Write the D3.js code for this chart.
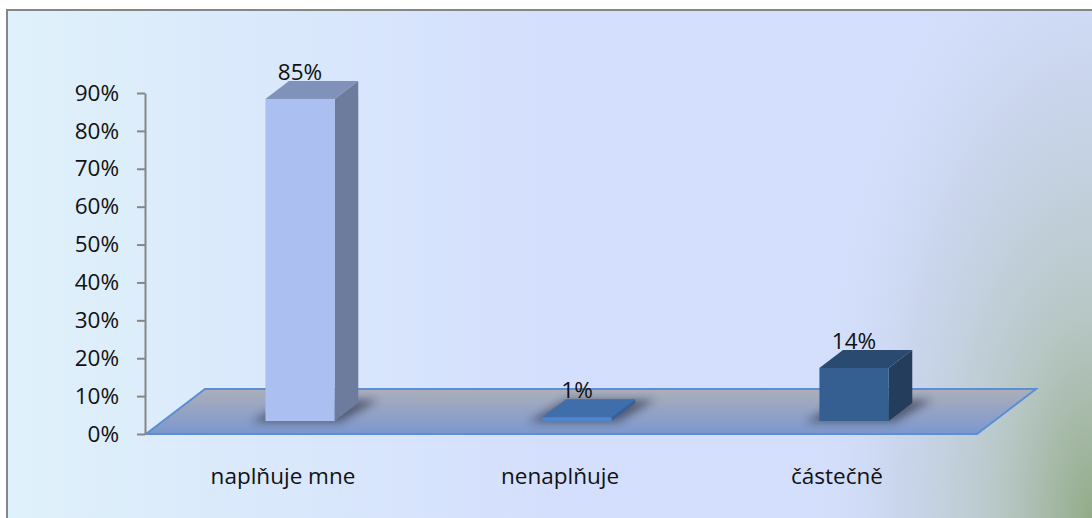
<!DOCTYPE html>
<html>
<head>
<meta charset="utf-8">
<script src="https://cdn.jsdelivr.net/npm/d3@7"></script>
<style>
  html, body { margin: 0; padding: 0; background: #ffffff; }
  svg { display: block; }
  text { font-family: "Open Sans", "Noto Sans", sans-serif; fill: #111; }
</style>
</head>
<body>
<svg id="chart" width="1092" height="518"></svg>
<script>
// Survey answers and their shares
const categories = ["naplňuje mne", "nenaplňuje", "částečně"];
const values = [0.85, 0.01, 0.14];
const tickValues = [0, 0.1, 0.2, 0.3, 0.4, 0.5, 0.6, 0.7, 0.8, 0.9];

// Face colours for each bar: front, top, side
const barFront = ["#abbff0", "#4d86cd", "#345f90"];
const barTop   = ["#8192ba", "#3f6eaa", "#2a4a6f"];
const barSide  = ["#6d7b9c", "#36609a", "#243d5c"];

const W = 1092, H = 518;
const FONT = "22.5px";
const svg = d3.select("#chart");
const defs = svg.append("defs");

// ---- background panel ----
const bgLin = defs.append("linearGradient").attr("id", "bgLin")
  .attr("gradientUnits", "userSpaceOnUse")
  .attr("x1", 8).attr("y1", 0).attr("x2", 560).attr("y2", 0);
bgLin.append("stop").attr("offset", 0).attr("stop-color", "#dff1fa");
bgLin.append("stop").attr("offset", 1).attr("stop-color", "#d4dffd");

const bgRad = defs.append("radialGradient").attr("id", "bgRad")
  .attr("gradientUnits", "userSpaceOnUse")
  .attr("cx", 0).attr("cy", 0).attr("r", 1)
  .attr("gradientTransform", `translate(${W},${H}) scale(300,680)`);
bgRad.append("stop").attr("offset", 0).attr("stop-color", "#93ab88").attr("stop-opacity", 1);
bgRad.append("stop").attr("offset", 0.3).attr("stop-color", "#b2c3bb").attr("stop-opacity", 0.85);
bgRad.append("stop").attr("offset", 0.65).attr("stop-color", "#c0ccdc").attr("stop-opacity", 0.5);
bgRad.append("stop").attr("offset", 1).attr("stop-color", "#d4dffd").attr("stop-opacity", 0);

svg.append("rect").attr("x", 8).attr("y", 11).attr("width", W - 8).attr("height", H - 11)
  .attr("fill", "url(#bgLin)");
svg.append("rect").attr("x", 8).attr("y", 11).attr("width", W - 8).attr("height", H - 11)
  .attr("fill", "url(#bgRad)");

// frame (top and left edges)
svg.append("path").attr("d", `M7,${H} V10 H${W}`)
  .attr("fill", "none").attr("stroke", "#868686").attr("stroke-width", 2);

// ---- scales ----
const y = d3.scaleLinear().domain([0, 0.9]).range([434, 93]);
const x = d3.scaleBand().domain(categories).range([144.5, 975.5]).padding(0);

// depth of the floor and placement of the bars inside it
const floorDX = 59, floorDY = 45;
const barOffset = 13 / floorDY;     // bars start this far back into the floor
const barDepth = 0.4;               // bars use this share of the floor depth
const barWidthShare = 0.25;

// ---- floor ----
const floorGrad = defs.append("linearGradient").attr("id", "floorGrad")
  .attr("x1", 0).attr("y1", 0).attr("x2", 0).attr("y2", 1);
floorGrad.append("stop").attr("offset", 0).attr("stop-color", "#abafba");
floorGrad.append("stop").attr("offset", 1).attr("stop-color", "#7c97cf");

const fx0 = x.range()[0] + 1.5, fx1 = x.range()[1] + 1.5, fy = y(0);
const floorPath = `M${fx0},${fy} L${fx1},${fy} L${fx1 + floorDX},${fy - floorDY} L${fx0 + floorDX},${fy - floorDY} Z`;
svg.append("path")
  .attr("d", floorPath)
  .attr("fill", "url(#floorGrad)")
  .attr("stroke", "#5b8ed5").attr("stroke-width", 2).attr("stroke-linejoin", "miter");

// ---- shadows under the bars ----
const blur = defs.append("filter").attr("id", "shadowBlur")
  .attr("x", "-50%").attr("y", "-100%").attr("width", "200%").attr("height", "300%");
blur.append("feGaussianBlur").attr("stdDeviation", 4);

defs.append("clipPath").attr("id", "floorClip").append("path").attr("d", floorPath);

function barGeom(d, i) {
  const bw = x.bandwidth() * barWidthShare;
  const cx = x(categories[i]) + x.bandwidth() / 2;
  const ox = floorDX * barOffset, oy = floorDY * barOffset;
  const x0 = cx - bw / 2 + ox;
  const x1 = x0 + bw;
  const yb = y(0) - oy;
  const yt = y(d) - oy;
  const dx = floorDX * barDepth, dy = floorDY * barDepth;
  return { x0, x1, yb, yt, dx, dy };
}

svg.append("g").attr("clip-path", "url(#floorClip)")
  .selectAll("path").data(values).join("path")
  .attr("d", (d, i) => {
    const g = barGeom(d, i);
    const s = 14;
    return `M${g.x0 - s},${g.yb + 1} L${g.x1 + 6},${g.yb + 1} L${g.x1 + g.dx + s + 6},${g.yb - g.dy - 3} L${g.x0 + g.dx},${g.yb - g.dy - 3} Z`;
  })
  .attr("fill", "#1d2233").attr("opacity", 0.55)
  .attr("filter", "url(#shadowBlur)");

// ---- bars (front, top and side faces) ----
const bars = svg.append("g").selectAll("g").data(values).join("g");

bars.append("path")
  .attr("d", (d, i) => {
    const g = barGeom(d, i);
    return `M${g.x1},${g.yb} L${g.x1 + g.dx},${g.yb - g.dy} L${g.x1 + g.dx},${g.yt - g.dy} L${g.x1},${g.yt} Z`;
  })
  .attr("fill", (d, i) => barSide[i]);

bars.append("path")
  .attr("d", (d, i) => {
    const g = barGeom(d, i);
    return `M${g.x0},${g.yt} L${g.x1},${g.yt} L${g.x1 + g.dx},${g.yt - g.dy} L${g.x0 + g.dx},${g.yt - g.dy} Z`;
  })
  .attr("fill", (d, i) => barTop[i]);

bars.append("rect")
  .attr("x", (d, i) => barGeom(d, i).x0)
  .attr("y", (d, i) => barGeom(d, i).yt)
  .attr("width", (d, i) => { const g = barGeom(d, i); return g.x1 - g.x0; })
  .attr("height", (d, i) => { const g = barGeom(d, i); return Math.max(g.yb - g.yt, 1.5); })
  .attr("fill", (d, i) => barFront[i]);

// value labels above each bar
bars.append("text")
  .attr("x", (d, i) => { const g = barGeom(d, i); return (g.x0 + g.x1) / 2; })
  .attr("y", (d, i) => { const g = barGeom(d, i); return g.yt - g.dy - 1; })
  .attr("text-anchor", "middle")
  .style("font-size", FONT)
  .text(d => d3.format(".0%")(d));

// ---- value axis ----
const axis = d3.axisLeft(y)
  .tickValues(tickValues)
  .tickFormat(d3.format(".0%"))
  .tickSize(8)
  .tickSizeOuter(0)
  .tickPadding(18);

const ax = svg.append("g").attr("transform", "translate(145,0)").call(axis);
ax.select(".domain").attr("stroke", "#868686").attr("stroke-width", 2);
ax.selectAll(".tick line").attr("stroke", "#868686").attr("stroke-width", 2);
ax.selectAll(".tick text")
  .attr("fill", "#111")
  .style("font-family", "\"Open Sans\", \"Noto Sans\", sans-serif")
  .style("font-size", FONT);

// ---- category labels ----
svg.append("g").selectAll("text").data(categories).join("text")
  .attr("x", d => x(d) + x.bandwidth() / 2)
  .attr("y", 484)
  .attr("text-anchor", "middle")
  .style("font-size", FONT)
  .text(d => d);
</script>
</body>
</html>
